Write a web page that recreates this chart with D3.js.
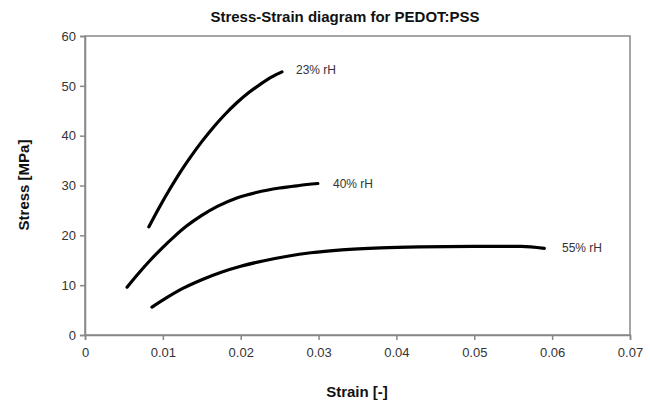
<!DOCTYPE html>
<html><head><meta charset="utf-8">
<script src="https://cdn.jsdelivr.net/npm/d3@7"></script>
<style>
body{margin:0;background:#fff;}
text{font-family:"Liberation Sans",Arial,sans-serif;}
</style></head>
<body><svg id="chart" width="650" height="407"></svg>
<script>
const xTicks = [0, 0.01, 0.02, 0.03, 0.04, 0.05, 0.06, 0.07];
const yTicks = [0, 10, 20, 30, 40, 50, 60];
const seriesNames = ["23% rH", "40% rH", "55% rH"];
const strain23 = [0.0082, 0.0095, 0.0109, 0.0122, 0.0135, 0.0150, 0.0165, 0.0180, 0.0195, 0.0210, 0.0225, 0.0240, 0.0253];
const stress23 = [21.7, 25.5, 29.3, 32.6, 35.6, 38.8, 41.7, 44.3, 46.6, 48.6, 50.3, 51.8, 52.8];
const strain40 = [0.0054, 0.0070, 0.0085, 0.0100, 0.0115, 0.0130, 0.0150, 0.0170, 0.0195, 0.0220, 0.0250, 0.0275, 0.0299];
const stress40 = [9.6, 12.6, 15.2, 17.6, 19.8, 21.8, 24.0, 25.8, 27.5, 28.6, 29.5, 30.0, 30.4];
const strain55 = [0.0086, 0.0105, 0.0125, 0.0150, 0.0175, 0.0200, 0.0230, 0.0260, 0.0290, 0.0330, 0.0380, 0.0430, 0.0500, 0.0560, 0.0590];
const stress55 = [5.6, 7.5, 9.3, 11.1, 12.6, 13.8, 14.9, 15.8, 16.5, 17.1, 17.5, 17.7, 17.8, 17.8, 17.4];

const svg = d3.select("#chart");
const L = 85, R = 630, T = 36, B = 335;
const x = d3.scaleLinear().domain([0, 0.07]).range([L, R]);
const y = d3.scaleLinear().domain([0, 60]).range([B, T]);

svg.append("rect").attr("x", L).attr("y", T).attr("width", R - L).attr("height", B - T)
  .attr("fill", "none").attr("stroke", "#888").attr("stroke-width", 1.5);

const xAxis = svg.append("g").attr("transform", `translate(0,${B})`)
  .call(d3.axisBottom(x).tickValues(xTicks).tickSize(5).tickFormat(d => d === 0 ? "0" : d3.format(".2f")(d)));
const yAxis = svg.append("g").attr("transform", `translate(${L},0)`)
  .call(d3.axisLeft(y).tickValues(yTicks).tickSize(5).tickFormat(d3.format("d")));
[xAxis, yAxis].forEach(a => {
  a.select(".domain").attr("stroke", "#888").attr("stroke-width", 1.5);
  a.selectAll(".tick line").attr("stroke", "#888").attr("stroke-width", 1.5);
  a.selectAll("text").attr("fill", "#333").style("font-size", "13px").style("font-family", "Liberation Sans, Arial, sans-serif");
});
xAxis.selectAll("text").attr("dy", "1.1em");
yAxis.selectAll("text").attr("x", -9);

const series = [
  {name: seriesNames[0], xs: strain23, ys: stress23, lx: 296, ly: 74},
  {name: seriesNames[1], xs: strain40, ys: stress40, lx: 333, ly: 188},
  {name: seriesNames[2], xs: strain55, ys: stress55, lx: 562, ly: 252}
];
const line = d3.line().x(d => x(d[0])).y(d => y(d[1])).curve(d3.curveMonotoneX);
series.forEach(s => {
  const pts = s.xs.map((v, i) => [v, s.ys[i]]);
  svg.append("path").attr("d", line(pts)).attr("fill", "none")
    .attr("stroke", "#000").attr("stroke-width", 3.2).attr("stroke-linecap", "round").attr("stroke-linejoin", "round");
  svg.append("text").attr("x", s.lx).attr("y", s.ly).text(s.name)
    .attr("fill", "#333").style("font-size", "12px");
});

svg.append("text").attr("x", 345).attr("y", 22).attr("text-anchor", "middle")
  .style("font-size", "15px").style("font-weight", "bold").attr("fill", "#111")
  .text("Stress-Strain diagram for PEDOT:PSS");
svg.append("text").attr("x", 357).attr("y", 397).attr("text-anchor", "middle")
  .style("font-size", "15px").style("font-weight", "bold").attr("fill", "#111")
  .text("Strain [-]");
svg.append("text").attr("transform", "translate(29,185) rotate(-90)").attr("text-anchor", "middle")
  .style("font-size", "15px").style("font-weight", "bold").attr("fill", "#111")
  .text("Stress [MPa]");
</script></body></html>
